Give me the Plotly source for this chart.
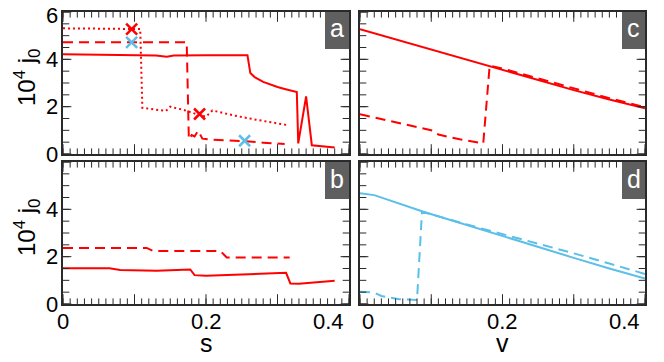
import plotly.graph_objects as go

RED = "#ff0000"
BLUE = "#5bbfe8"
AXIS = "#2a2a2a"
FONT = "Liberation Sans, Arial, Helvetica, sans-serif"

# ---- panel a : 10^4 j0 vs s ----
a_solid_s = [0, 0.05, 0.10, 0.13, 0.145, 0.155, 0.20, 0.258, 0.262, 0.268, 0.28, 0.29, 0.30, 0.31, 0.327,
             0.329, 0.340, 0.348, 0.38]
a_solid_j = [4.22, 4.20, 4.18, 4.16, 4.11, 4.16, 4.17, 4.17, 3.42, 3.25, 3.05, 2.93, 2.83, 2.75, 2.62,
             0.45, 2.43, 0.37, 0.27]

a_dash_s = [0, 0.173, 0.176, 0.180, 0.184, 0.189, 0.195, 0.21, 0.23, 0.25, 0.28, 0.31]
a_dash_j = [4.72, 4.72, 0.62, 0.80, 0.74, 0.98, 0.65, 0.60, 0.57, 0.55, 0.48, 0.42]

a_dot_s = [0, 0.108, 0.111, 0.125, 0.144, 0.150, 0.170, 0.187, 0.200, 0.209, 0.24, 0.27, 0.30, 0.316]
a_dot_j = [5.31, 5.28, 1.95, 1.90, 1.82, 2.00, 1.85, 1.68, 1.58, 1.84, 1.62, 1.45, 1.30, 1.21]

a_red_x_s = [0.096, 0.191]
a_red_x_j = [5.28, 1.69]
a_blue_x_s = [0.096, 0.254]
a_blue_x_j = [4.72, 0.56]

# ---- panel b : 10^4 j0 vs s ----
b_dash_s = [0, 0.117, 0.126, 0.220, 0.229, 0.317]
b_dash_j = [2.37, 2.37, 2.24, 2.24, 1.97, 1.97]

b_solid_s = [0, 0.065, 0.080, 0.131, 0.178, 0.184, 0.200, 0.300, 0.312, 0.318, 0.330, 0.380]
b_solid_j = [1.51, 1.51, 1.44, 1.40, 1.46, 1.22, 1.19, 1.29, 1.32, 0.87, 0.86, 0.98]

# ---- panel c : 10^4 j0 vs v ----
c_solid_v = [0, 0.05, 0.10, 0.15, 0.20, 0.25, 0.30, 0.35, 0.40]
c_solid_j = [5.27, 4.84, 4.42, 4.00, 3.58, 3.15, 2.70, 2.30, 1.93]

c_dash_v = [0, 0.05, 0.103, 0.110, 0.140, 0.173, 0.182, 0.20, 0.25, 0.30, 0.35, 0.40]
c_dash_j = [1.68, 1.33, 0.98, 0.82, 0.62, 0.45, 3.74, 3.61, 3.20, 2.76, 2.36, 1.98]

# ---- panel d : 10^4 j0 vs v ----
d_solid_v = [0, 0.02, 0.089, 0.15, 0.20, 0.25, 0.30, 0.35, 0.40]
d_solid_j = [4.68, 4.60, 3.90, 3.33, 2.86, 2.40, 1.95, 1.50, 1.08]

d_dash_v = [0, 0.02, 0.03, 0.055, 0.080, 0.087, 0.15, 0.20, 0.25, 0.30, 0.35, 0.40]
d_dash_j = [0.52, 0.48, 0.34, 0.20, 0.17, 3.90, 3.36, 2.96, 2.55, 2.14, 1.71, 1.27]

panel_labels = ["a", "b", "c", "d"]
x_tick_vals = [0, 0.2, 0.4]
x_tick_text = ["0", "0.2", "0.4"]
y_labels_top = [0, 2, 4, 6]
y_labels_bottom = [0, 2, 4]

# tick positions (drawn as clipped markers on the frame)
x_minor = [i / 100 for i in range(41)]
x_major = [0, 0.1, 0.2, 0.3, 0.4]
y_minor = [i / 2 for i in range(13)]
y_major = [0, 2, 4, 6]
X_MIN, X_MAX, Y_MIN, Y_MAX = 0, 0.4, 0, 6

W, H = 664, 362
ML, MR, MT, MB = 40, 10, 2, 30
PW, PH = W - ML - MR, H - MT - MB
OFF = 8  # page body margin


def px(x):
    return (x - OFF - ML) / PW


def py(y):
    return (H - MB - (y - OFF)) / PH


fig = go.Figure()


def line(x, y, color, dash, ax):
    fig.add_trace(go.Scatter(x=x, y=y, mode="lines", line=dict(color=color, width=2, dash=dash),
                             xaxis="x" + ax, yaxis="y" + ax, hoverinfo="skip"))


def frame_ticks(ax):
    # markers sit on the frame; the plot-area clip keeps only the inward half
    specs = [
        (x_minor + x_minor, [Y_MIN] * len(x_minor) + [Y_MAX] * len(x_minor), "line-ns", 8),
        (x_major + x_major, [Y_MIN] * len(x_major) + [Y_MAX] * len(x_major), "line-ns", 14),
        ([X_MIN] * len(y_minor) + [X_MAX] * len(y_minor), y_minor + y_minor, "line-ew", 9),
        ([X_MIN] * len(y_major) + [X_MAX] * len(y_major), y_major + y_major, "line-ew", 12),
    ]
    for xs, ys, sym, size in specs:
        fig.add_trace(go.Scatter(x=xs, y=ys, mode="markers", cliponaxis=True, hoverinfo="skip",
                                 marker=dict(symbol=sym, size=size, color=AXIS, line=dict(width=1, color=AXIS)),
                                 xaxis="x" + ax, yaxis="y" + ax))


line(a_solid_s, a_solid_j, RED, "solid", "")
line(a_dash_s, a_dash_j, RED, "10px,6px", "")
line(a_dot_s, a_dot_j, RED, "2px,3px", "")
for xs, ys, col in [(a_red_x_s, a_red_x_j, RED), (a_blue_x_s, a_blue_x_j, BLUE)]:
    fig.add_trace(go.Scatter(x=xs, y=ys, mode="markers", hoverinfo="skip",
                             marker=dict(symbol="x-thin", size=11, line=dict(color=col, width=2.5))))

line(b_solid_s, b_solid_j, RED, "solid", "2")
line(b_dash_s, b_dash_j, RED, "10px,6px", "2")

line(c_solid_v, c_solid_j, RED, "solid", "3")
line(c_dash_v, c_dash_j, RED, "10px,6px", "3")

line(d_solid_v, d_solid_j, BLUE, "solid", "4")
line(d_dash_v, d_dash_j, BLUE, "10px,6px", "4")

for ax in ["", "2", "3", "4"]:
    frame_ticks(ax)


def xaxis(domain, anchor):
    return dict(domain=domain, anchor=anchor, range=[X_MIN, X_MAX], showline=True, linecolor=AXIS,
                linewidth=1.5, mirror=True, ticks="", showticklabels=False, showgrid=False, zeroline=False)


def yaxis(domain, anchor):
    return dict(domain=domain, anchor=anchor, range=[Y_MIN, Y_MAX], showline=True, linecolor=AXIS,
                linewidth=1.5, mirror=True, ticks="", showticklabels=False, showgrid=False, zeroline=False)


left = [px(63), px(349)]
right = [px(360), px(645)]
top = [py(154), py(12)]
bottom = [py(304), py(162)]

fig.update_layout(
    width=W, height=H, margin=dict(l=ML, r=MR, t=MT, b=MB), showlegend=False,
    plot_bgcolor="white",
    xaxis=xaxis(left, "y"), yaxis=yaxis(top, "x"),
    xaxis2=xaxis(left, "y2"), yaxis2=yaxis(bottom, "x2"),
    xaxis3=xaxis(right, "y3"), yaxis3=yaxis(top, "x3"),
    xaxis4=xaxis(right, "y4"), yaxis4=yaxis(bottom, "x4"),
)

# panel label boxes
boxes = [(325, 349, 12, 49), (325, 349, 162, 199), (622, 645, 12, 49), (622, 645, 162, 199)]
for lab, (x0, x1, y0, y1) in zip(panel_labels, boxes):
    fig.add_shape(type="rect", xref="paper", yref="paper", x0=px(x0), x1=px(x1), y0=py(y1), y1=py(y0),
                  fillcolor="#5f5f5f", line=dict(width=0), layer="above")
    fig.add_annotation(text=lab, xref="paper", yref="paper", x=px((x0 + x1) / 2), y=py((y0 + y1) / 2 - 2),
                       showarrow=False, font=dict(family=FONT, size=25, color="white"),
                       xanchor="center", yanchor="middle")

# y tick labels
for ya, vals in [("y", y_labels_top), ("y2", y_labels_bottom)]:
    for v in vals:
        fig.add_annotation(text=str(v), xref="paper", yref=ya, x=px(60), y=v, xanchor="right",
                           yanchor="middle", yshift=-3 if v == 6 else 0, showarrow=False,
                           font=dict(family=FONT, size=22, color="black"))

# x tick labels (edge labels clamped inside the frame)
for xa, anchors in [("x2", ["center", "center", "right"]), ("x4", ["left", "center", "right"])]:
    for v, t, anc in zip(x_tick_vals, x_tick_text, anchors):
        shift = -3 if anc == "right" else 0
        fig.add_annotation(text=t, xref=xa, yref="paper", x=v, y=py(321), xanchor=anc, yanchor="middle",
                           xshift=shift, showarrow=False, font=dict(family=FONT, size=22, color="black"))

# axis titles
for yc in [78, 228]:
    fig.add_annotation(text="10<sup>4</sup> j<sub>0</sub>", xref="paper", yref="paper", x=px(27), y=py(yc),
                       textangle=-90, showarrow=False, font=dict(family=FONT, size=24, color="black"),
                       xanchor="center", yanchor="middle")
for t, xc in [("s", 206), ("v", 502)]:
    fig.add_annotation(text=t, xref="paper", yref="paper", x=px(xc), y=py(343), showarrow=False,
                       font=dict(family=FONT, size=25, color="black"), xanchor="center", yanchor="middle")

fig.write_html("out.html")
